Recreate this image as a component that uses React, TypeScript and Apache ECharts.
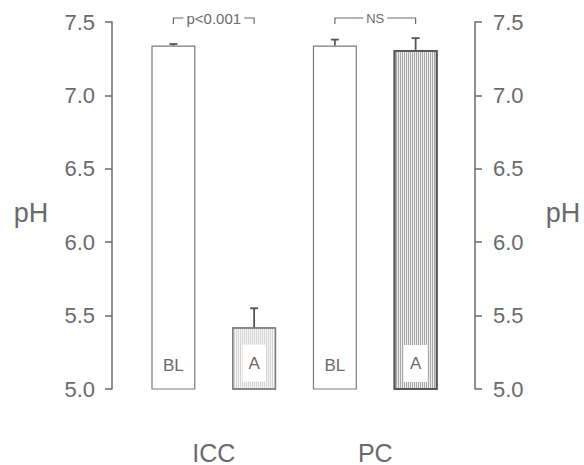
import React, { useEffect, useRef } from "react";
import * as echarts from "echarts";

const categories = ["ICC BL", "ICC A", "PC BL", "PC A"];
const groups = ["ICC", "PC"];
const barLabels = ["BL", "A", "BL", "A"];
const meanPH = [7.34, 5.42, 7.34, 7.31];
const sePH = [0.01, 0.13, 0.04, 0.08];
const comparisons: [number, number][] = [[0, 1], [2, 3]];
const comparisonLabels = ["p<0.001", "NS"];
const yMin = 5.0;
const yMax = 7.5;
const yStep = 0.5;

const GRAY = "#6a6a6a";
const FONT = "'Liberation Sans', Arial, sans-serif";

export default function App() {
  const ref = useRef<HTMLDivElement>(null);
  useEffect(() => {
    if (!ref.current) return;
    const chart = echarts.init(ref.current, undefined, { renderer: "svg" });

    const barData = meanPH.map((v, i) => {
      const isA = barLabels[i] === "A";
      const isPC = i >= 2;
      return {
        value: v,
        itemStyle: isA
          ? {
              color: isPC ? "#efefef" : "#f6f6f6",
              borderColor: isPC ? "#555" : "#808080",
              borderWidth: isPC ? 1.8 : 1.3,
              decal: {
                symbol: "rect",
                symbolSize: 1,
                dashArrayX: [1, 1],
                dashArrayY: [4, 0],
                color: isPC ? "rgba(120,120,120,0.6)" : "rgba(170,170,170,0.45)",
              },
            }
          : { color: "#fff", borderColor: "#7a7a7a", borderWidth: 1.2 },
        label: isA
          ? {
              show: true,
              position: "insideBottom",
              distance: 8,
              backgroundColor: "#fff",
              padding: [10, 6, 10, 6],
            }
          : { show: true, position: "insideBottom", distance: 16 },
      };
    });

    const yAxisCommon = {
      type: "value",
      min: yMin,
      max: yMax,
      interval: yStep,
      splitLine: { show: false },
      axisLine: { show: true, lineStyle: { color: GRAY, width: 1.5 } },
      axisTick: { show: true, length: 7, lineStyle: { color: GRAY, width: 1.5 } },
    };

    chart.setOption({
      animation: false,
      textStyle: { fontFamily: FONT },
      grid: { left: 133, right: 128, top: 22, bottom: 75 },
      xAxis: [
        { type: "category", data: categories, show: false },
        {
          type: "category",
          data: groups,
          position: "bottom",
          axisLine: { show: false },
          axisTick: { show: false },
          axisLabel: { fontSize: 25, color: GRAY, margin: 51, fontFamily: FONT },
        },
      ],
      yAxis: [
        {
          ...yAxisCommon,
          position: "left",
          offset: 21,
          axisLabel: { fontSize: 22, color: GRAY, margin: 17, formatter: (v: number) => v.toFixed(1), fontFamily: FONT },
        },
        {
          ...yAxisCommon,
          position: "right",
          offset: 19,
          axisLabel: { fontSize: 22, color: GRAY, margin: 18, formatter: (v: number) => v.toFixed(1), fontFamily: FONT },
        },
      ],
      graphic: [
        { type: "text", x: 31, y: 213, style: { text: "pH", fontSize: 27, fill: GRAY, align: "center", verticalAlign: "middle", fontFamily: FONT } },
        { type: "text", x: 563, y: 213, style: { text: "pH", fontSize: 27, fill: GRAY, align: "center", verticalAlign: "middle", fontFamily: FONT } },
      ],
      series: [
        {
          type: "bar",
          xAxisIndex: 0,
          yAxisIndex: 0,
          barWidth: 44,
          data: barData,
          label: { color: GRAY, fontSize: 17, fontFamily: FONT, formatter: (p: any) => barLabels[p.dataIndex] },
          z: 2,
        },
        {
          type: "custom",
          xAxisIndex: 0,
          yAxisIndex: 0,
          data: meanPH.map((v, i) => [i, v, sePH[i]]),
          encode: { x: 0, y: 1 },
          z: 3,
          renderItem: (params: any, api: any) => {
            const i = api.value(0);
            const m = api.value(1);
            const se = api.value(2);
            const p0 = api.coord([i, m]);
            const p1 = api.coord([i, m + se]);
            const w = 4;
            const st = { stroke: "#555", lineWidth: 1.8 };
            return {
              type: "group",
              children: [
                { type: "line", shape: { x1: p0[0], y1: p0[1], x2: p1[0], y2: p1[1] }, style: st },
                { type: "line", shape: { x1: p1[0] - w, y1: p1[1], x2: p1[0] + w, y2: p1[1] }, style: st },
              ],
            };
          },
        },
        {
          type: "custom",
          xAxisIndex: 0,
          yAxisIndex: 0,
          data: comparisons.map((c) => [c[0], c[1]]),
          encode: { x: 0 },
          clip: false,
          z: 4,
          renderItem: (params: any, api: any) => {
            const a = api.coord([api.value(0), yMax]);
            const b = api.coord([api.value(1), yMax]);
            const y = a[1] - 4;
            const st = { stroke: GRAY, lineWidth: 1.2 };
            const label = comparisonLabels[params.dataIndex];
            return {
              type: "group",
              children: [
                { type: "polyline", shape: { points: [[a[0], y + 6], [a[0], y], [b[0], y], [b[0], y + 6]] }, style: { ...st, fill: "none" } },
                {
                  type: "text",
                  x: (a[0] + b[0]) / 2,
                  y: y,
                  style: {
                    text: label,
                    fontSize: label === "NS" ? 13 : 15,
                    fill: GRAY,
                    align: "center",
                    verticalAlign: "middle",
                    backgroundColor: "#fff",
                    padding: [1, 3, 1, 3],
                    fontFamily: FONT,
                  },
                },
              ],
            };
          },
        },
      ],
    });
    return () => chart.dispose();
  }, []);
  return <div ref={ref} style={{ position: "fixed", left: 0, top: 0, width: 584, height: 465, background: "#fff" }} />;
}
